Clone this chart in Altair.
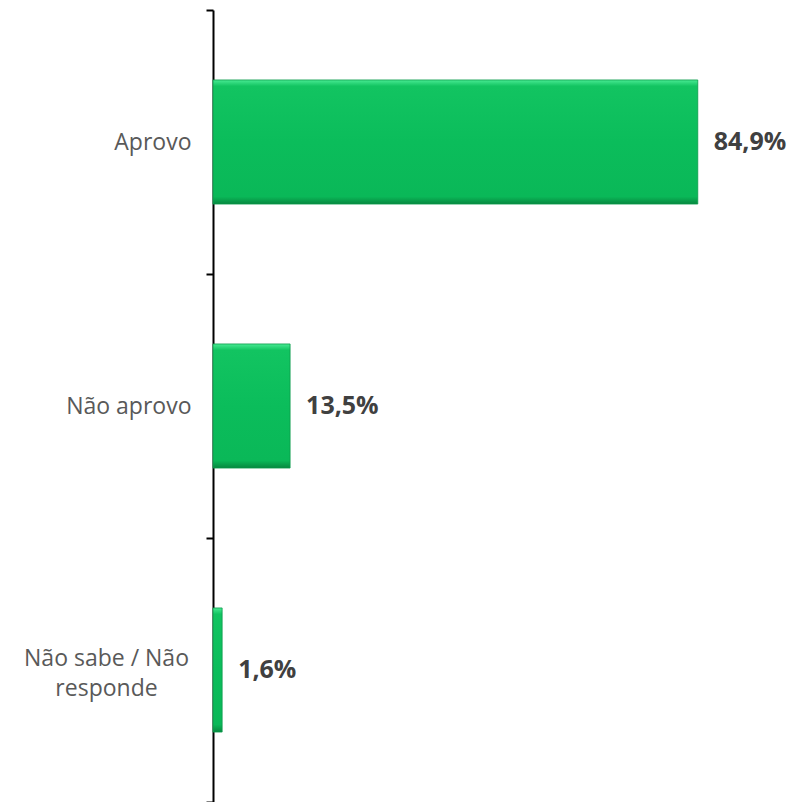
import altair as alt
import pandas as pd

categories = ["Aprovo", "Não aprovo", "Não sabe / Não responde"]
values = [84.9, 13.5, 1.6]
labels = [f"{v:.1f}".replace(".", ",") + "%" for v in values]

df = pd.DataFrame({"cat": categories, "val": values, "lab": labels})

FONT = "Open Sans"
MULTI = "datum.value == 'Não sabe / Não responde'"

y_enc = alt.Y(
    "cat:N",
    sort=categories,
    scale=alt.Scale(paddingInner=0, paddingOuter=0),
    axis=alt.Axis(
        title=None,
        domainColor="#000000",
        domainWidth=2,
        tickColor="#000000",
        tickWidth=2,
        tickSize=7,
        tickBand="extent",
        labelFont=FONT,
        labelFontSize=23,
        labelColor="#595959",
        labelExpr="datum.value == 'Não sabe / Não responde' ? ['Não sabe / Não', 'responde'] : datum.label",
        labelAlign={"condition": {"test": MULTI, "value": "center"}, "value": "right"},
        labelPadding={"condition": {"test": MULTI, "value": 100}, "value": 15},
        labelOffset={"condition": {"test": MULTI, "value": -12}, "value": 0},
        labelBaseline="middle",
        labelLineHeight=30,
    ),
)

x_enc = alt.X("val:Q", scale=alt.Scale(domain=[0, 100]), axis=None)

grad = alt.Gradient(
    gradient="linear",
    x1=0, y1=0, x2=0, y2=1,
    stops=[
        alt.GradientStop(color="#48ea93", offset=0),
        alt.GradientStop(color="#12c461", offset=0.05),
        alt.GradientStop(color="#0bbd5b", offset=0.5),
        alt.GradientStop(color="#0ab858", offset=0.94),
        alt.GradientStop(color="#07873f", offset=1),
    ],
)

bars = alt.Chart(df).mark_bar(
    height={"band": 0.47},
    color=grad,
    stroke="#0a9a4a",
    strokeWidth=0.8,
).encode(x=x_enc, y=y_enc)

text = alt.Chart(df).mark_text(
    align="left",
    baseline="middle",
    dx=16,
    font=FONT,
    fontSize=25,
    fontWeight="bold",
    color="#404040",
).encode(x=x_enc, y=alt.Y("cat:N", sort=categories), text="lab:N")

chart = (
    alt.layer(bars, text)
    .properties(
        width=571,
        height=792,
        background="white",
        autosize=alt.AutoSizeParams(type="none"),
        padding={"left": 205, "top": 2, "right": 14, "bottom": 0},
    )
    .configure_view(strokeWidth=0, stroke="transparent")
)

chart.save("out.html", embed_options={"renderer": "svg", "actions": False})
